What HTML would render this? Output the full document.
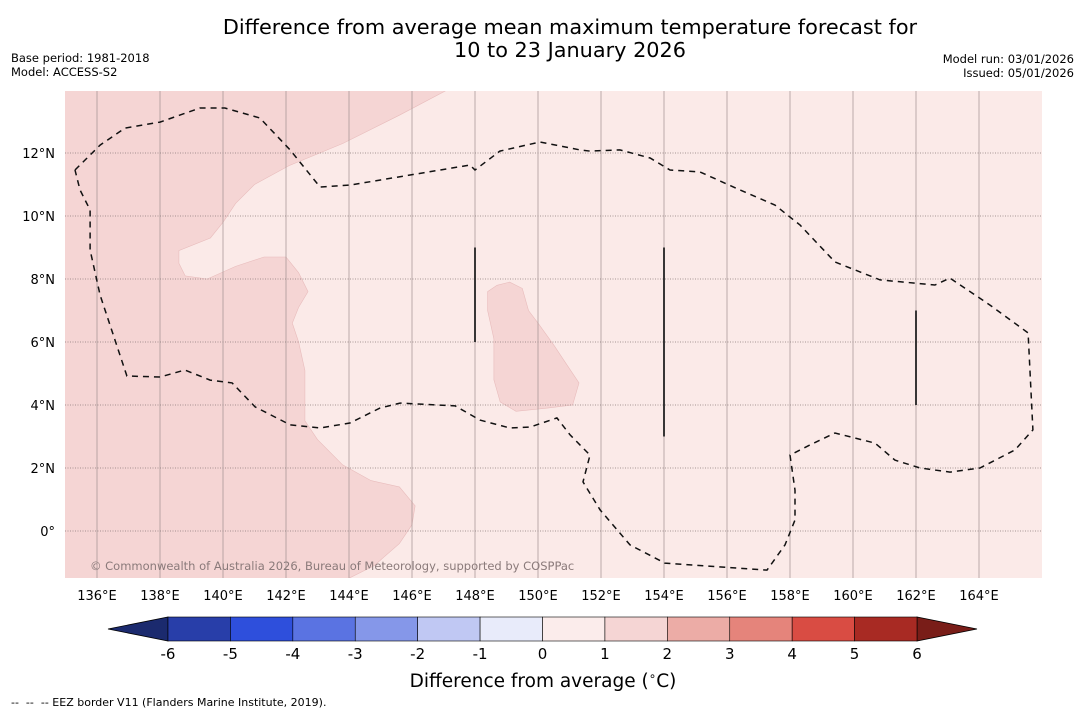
<!DOCTYPE html>
<html><head><meta charset="utf-8"><style>
body{margin:0;background:#fff;font-family:"DejaVu Sans","Liberation Sans",sans-serif;}
svg text{font-family:"DejaVu Sans","Liberation Sans",sans-serif;}
</style></head><body>
<svg id="s" width="1085" height="713" xmlns="http://www.w3.org/2000/svg">
<text x="570" y="34" font-size="20.8" text-anchor="middle">Difference from average mean maximum temperature forecast for</text>
<text x="570" y="57" font-size="20.8" text-anchor="middle">10 to 23 January 2026</text>
<text x="11" y="62" font-size="11.5">Base period: 1981-2018</text>
<text x="11" y="76" font-size="11.5">Model: ACCESS-S2</text>
<text x="1074" y="63" font-size="11.5" text-anchor="end">Model run: 03/01/2026</text>
<text x="1074" y="77" font-size="11.5" text-anchor="end">Issued: 05/01/2026</text>
<g id="map"></g>
<g id="cb"></g>
<text x="543" y="687" font-size="18.5" text-anchor="middle">Difference from average (<tspan font-size="12" dy="-7">∘</tspan><tspan dy="7">C)</tspan></text>
<text x="11" y="706" font-size="11" xml:space="preserve">--  --  -- EEZ border V11 (Flanders Marine Institute, 2019).</text>
</svg>
<script>
const NS="http://www.w3.org/2000/svg";
const lonTicks=[136,138,140,142,144,146,148,150,152,154,156,158,160,162,164];
const latTicks=[0,2,4,6,8,10,12];
const cbLevels=[-6,-5,-4,-3,-2,-1,0,1,2,3,4,5,6];
const cbColors=["#283ea9","#2e4fdc","#5a73e2","#8597e9","#c0c8f3","#e8ebfa","#fbeceb","#f5d5d4","#ecaca6","#e5847b","#d94c43","#a82a23"];
const cbExt=["#1b2a6e","#791d18"];
const darkWest=[[134.9,14.1],[147.3,14.1],[145.6,13.2],[143.8,12.3],[142.1,11.6],[141.0,11.0],[140.4,10.4],[140.0,9.8],[139.6,9.3],[138.6,8.9],[138.6,8.5],[138.8,8.1],[139.5,8.0],[140.4,8.4],[141.3,8.7],[142.0,8.7],[142.4,8.2],[142.7,7.6],[142.4,7.1],[142.2,6.6],[142.4,6.0],[142.6,5.1],[142.6,4.2],[142.6,3.5],[143.0,2.9],[143.8,2.1],[144.7,1.6],[145.6,1.4],[146.1,0.8],[146.0,0.2],[145.6,-0.4],[144.8,-1.1],[143.8,-1.6],[134.9,-1.6]];
const darkIsland=[[148.4,7.6],[148.7,7.8],[149.1,7.9],[149.5,7.7],[149.7,7.0],[150.0,6.6],[150.5,5.9],[150.9,5.3],[151.3,4.7],[151.1,4.0],[150.3,3.9],[149.3,3.8],[148.8,4.1],[148.6,4.8],[148.6,6.1],[148.4,7.0]];
const eez=[[135.30,11.46],[136.10,12.25],[136.89,12.79],[138.00,12.98],[139.27,13.43],[140.06,13.43],[141.17,13.11],[142.13,12.10],[143.08,10.92],[144.03,10.98],[147.84,11.62],[148.00,11.46],[148.79,12.06],[150.06,12.35],[151.33,12.10],[151.65,12.06],[152.60,12.10],[153.56,11.84],[154.19,11.46],[155.14,11.40],[156.41,10.83],[157.52,10.35],[158.32,9.71],[159.43,8.54],[160.86,7.97],[162.60,7.81],[163.08,8.03],[164.35,7.17],[165.56,6.29],[165.71,3.21],[165.14,2.57],[164.03,2.0],[163.08,1.87],[162.13,2.0],[161.33,2.25],[160.70,2.79],[159.43,3.11],[158.63,2.73],[158.00,2.41],[158.16,1.30],[158.16,0.35],[157.84,-0.44],[157.27,-1.24],[154.03,-1.02],[152.92,-0.44],[151.97,0.67],[151.43,1.56],[151.65,2.41],[151.02,3.05],[150.60,3.59],[149.75,3.30],[149.11,3.27],[148.16,3.52],[147.37,3.97],[145.62,4.06],[144.98,3.90],[144.03,3.43],[143.08,3.27],[142.13,3.37],[141.02,3.94],[140.29,4.70],[139.59,4.79],[138.79,5.11],[138.00,4.89],[136.95,4.92],[136.57,6.06],[136.10,7.49],[135.78,8.92],[135.78,10.19],[135.46,10.83],[135.30,11.46]];
const bars=[[148,9,6],[154,9,3],[162,7,4]];
const X=lon=>97+(lon-136)*31.5, Y=lat=>531-lat*31.5;
const x0=65,x1=1042,y0=91,y1=578;
function el(t,a,p){const e=document.createElementNS(NS,t);for(const k in a)e.setAttribute(k,a[k]);(p||document.getElementById('map')).appendChild(e);return e;}
const map=document.getElementById('map');
const cp=el('clipPath',{id:'clip'});el('rect',{x:x0,y:y0,width:x1-x0,height:y1-y0},cp);
let r=el('rect',{x:x0,y:y0,width:x1-x0,height:y1-y0,fill:'#fbeae8'});


const g=el('g',{'clip-path':'url(#clip)'});
const pts=a=>a.map(p=>X(p[0]).toFixed(1)+','+Y(p[1]).toFixed(1)).join(' ');
let p1=el('polygon',{points:pts(darkWest),fill:'#f5d5d4',stroke:'#e8bcbc','stroke-width':0.6},g);


let p2=el('polygon',{points:pts(darkIsland),fill:'#f5d5d4',stroke:'#e8bcbc','stroke-width':0.6},g);


lonTicks.forEach(l=>{const ln=el('line',{x1:X(l),x2:X(l),y1:y0,y2:y1,stroke:'#a09090','stroke-width':0.7},g);


const t=el('text',{x:X(l),y:600,'font-size':13,'text-anchor':'middle'});t.textContent=l+'°E';

});
latTicks.forEach(l=>{const ln=el('line',{x1:x0,x2:x1,y1:Y(l),y2:Y(l),stroke:'#8a7a7a','stroke-width':0.8,'stroke-dasharray':'1,1.5'},g);


const t=el('text',{x:55,y:Y(l)+5,'font-size':13,'text-anchor':'end'});t.textContent=l===0?'0°':l+'°N';

});
let ez=el('polyline',{points:pts(eez),fill:'none',stroke:'#111','stroke-width':1.5,'stroke-dasharray':'6,5'},g);


bars.forEach(b=>{const ln=el('line',{x1:X(b[0]),x2:X(b[0]),y1:Y(b[1]),y2:Y(b[2]),stroke:'#222','stroke-width':1.8},g);

});
const cr=el('text',{x:90,y:570,'font-size':11.5,fill:'#8a7a7a'},g);cr.textContent='© Commonwealth of Australia 2026, Bureau of Meteorology, supported by COSPPac';


const cb=document.getElementById('cb');
const cx0=168,cx1=917,cy0=617,cy1=641;
const CX=v=>cx0+(v-cbLevels[0])/(cbLevels[cbLevels.length-1]-cbLevels[0])*(cx1-cx0);
let tl=el('polygon',{points:`${cx0},${cy0} ${cx0},${cy1} 108,${(cy0+cy1)/2}`,fill:cbExt[0],stroke:'#000','stroke-width':0.8},cb);


let tr=el('polygon',{points:`${cx1},${cy0} ${cx1},${cy1} 977,${(cy0+cy1)/2}`,fill:cbExt[1],stroke:'#000','stroke-width':0.8},cb);


cbColors.forEach((c,i)=>{const a=CX(cbLevels[i]),b=CX(cbLevels[i+1]);
const rr=el('rect',{x:a,y:cy0,width:b-a,height:cy1-cy0,fill:c,stroke:'#000','stroke-width':0.6},cb);

});
cbLevels.forEach(v=>{const t=el('text',{x:CX(v),y:659,'font-size':15,'text-anchor':'middle'},cb);t.textContent=v;

});
</script>
</body></html>
